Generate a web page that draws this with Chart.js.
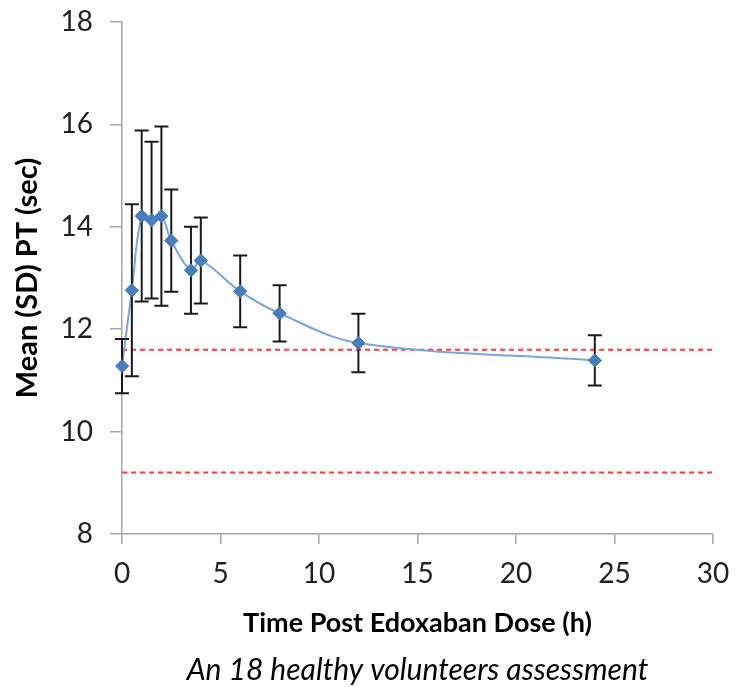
<!DOCTYPE html>
<html><head><meta charset="utf-8">
<script src="https://cdn.jsdelivr.net/npm/chart.js@4/dist/chart.umd.min.js"></script>
<style>html,body{margin:0;padding:0;background:#fff}#wrap{width:743px;height:687px}</style>
</head><body><div id="wrap"><canvas id="c" width="743" height="687"></canvas></div>
<script>
const timesH = [0, 0.5, 1, 1.5, 2, 2.5, 3.5, 4, 6, 8, 12, 24];
const meanPT = [11.28, 12.76, 14.21, 14.13, 14.21, 13.73, 13.15, 13.34, 12.74, 12.31, 11.73, 11.39];
const sdPT   = [0.53, 1.68, 1.67, 1.53, 1.75, 1.0, 0.85, 0.84, 0.70, 0.55, 0.57, 0.49];
const refLines = [11.6, 9.2];
const xRange = [0, 30];
const yRange = [8, 18];

const FONT = "Lato, 'Open Sans', sans-serif";

const errorBars = {
  id: 'errorBars',
  afterDatasetsDraw(chart) {
    const ctx = chart.ctx, xs = chart.scales.x, ys = chart.scales.y;
    ctx.save();
    ctx.strokeStyle = '#1a1a1a';
    ctx.lineWidth = 2;
    timesH.forEach((t, i) => {
      const px = xs.getPixelForValue(t);
      const top = ys.getPixelForValue(meanPT[i] + sdPT[i]);
      const bot = ys.getPixelForValue(meanPT[i] - sdPT[i]);
      ctx.beginPath();
      ctx.moveTo(px, top); ctx.lineTo(px, bot);
      ctx.moveTo(px - 7, top); ctx.lineTo(px + 7, top);
      ctx.moveTo(px - 7, bot); ctx.lineTo(px + 7, bot);
      ctx.stroke();
    });
    ctx.restore();
    const meta = chart.getDatasetMeta(0);
    meta.data.forEach(p => p.draw(ctx));
  }
};

const datasets = [{
  data: timesH.map((t, i) => ({x: t, y: meanPT[i]})),
  borderColor: '#7ba4d8',
  borderWidth: 2,
  tension: 0.35,
  pointStyle: 'rectRot',
  pointRadius: 6.5,
  pointBackgroundColor: '#4a7ebb',
  pointBorderColor: '#4a7ebb',
  pointBorderWidth: 1,
  order: 0
}];
refLines.forEach(v => datasets.push({
  data: [{x: xRange[0], y: v}, {x: xRange[1], y: v}],
  borderColor: '#ff3b3b',
  borderWidth: 2,
  borderDash: [5, 4],
  pointRadius: 0,
  order: 1
}));

new Chart(document.getElementById('c'), {
  type: 'line',
  data: {datasets},
  options: {
    responsive: false,
    animation: false,
    layout: {padding: {left: 0, right: 30, top: 22, bottom: 0}},
    plugins: {
      legend: {display: false},
      tooltip: {enabled: false},
      title: {
        display: true, position: 'bottom', fullSize: false,
        text: 'An 18 healthy volunteers assessment',
        color: '#000',
        font: {family: FONT, size: 30, style: 'italic', weight: 'normal', lineHeight: 1.0},
        padding: {top: 0, bottom: 1.5}
      }
    },
    scales: {
      x: {
        type: 'linear', min: xRange[0], max: xRange[1],
        afterFit(s) { s.height = 121.5; s.paddingLeft = 0; s.paddingRight = 0; },
        ticks: {stepSize: 5, color: '#222', font: {family: FONT, size: 28}, padding: 13},
        grid: {drawOnChartArea: false, drawTicks: true, tickLength: 10, color: '#a6a6a6', lineWidth: 1.5},
        border: {color: '#a6a6a6', width: 1.5},
        title: {display: true, text: 'Time Post Edoxaban Dose (h)', color: '#000',
          font: {family: FONT, size: 27, weight: 'bold', lineHeight: 1.2}, padding: {top: 0, bottom: 16}}
      },
      y: {
        min: yRange[0], max: yRange[1],
        afterFit(s) { s.width = 122; s.paddingTop = 0; s.paddingBottom = 0; },
        ticks: {stepSize: 2, color: '#222', font: {family: FONT, size: 28}, padding: 17},
        grid: {drawOnChartArea: false, drawTicks: true, tickLength: 12, color: '#a6a6a6', lineWidth: 1.5},
        border: {color: '#a6a6a6', width: 1.5},
        title: {display: true, text: 'Mean (SD) PT (sec)', color: '#000',
          font: {family: FONT, size: 29, weight: 'bold', lineHeight: 1.2}, padding: {top: 10.5, bottom: 0}}
      }
    }
  },
  plugins: [errorBars]
});
</script></body></html>
